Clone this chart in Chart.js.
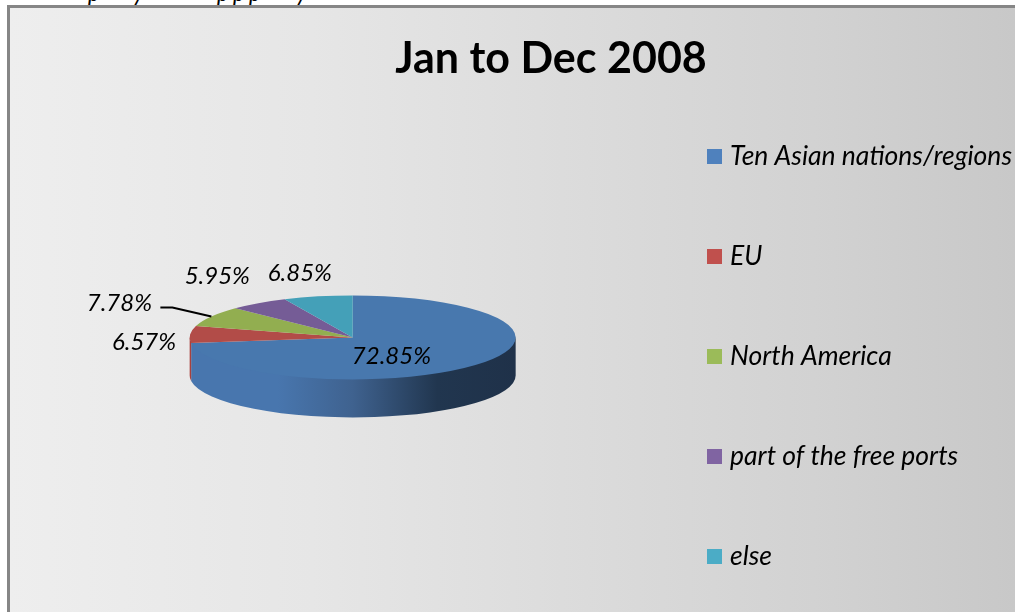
<!DOCTYPE html>
<html><head><meta charset="utf-8">
<style>
html,body{margin:0;padding:0;background:#fff;width:1015px;height:612px;overflow:hidden}
#clip{position:absolute;left:0;top:0;width:1015px;height:5px;overflow:hidden;font:italic 23px Lato,sans-serif;color:#000}
#clip span{position:absolute;bottom:1px;line-height:23px}
#box{position:absolute;left:7px;top:5px;width:1008px;height:607px;box-sizing:border-box;border-left:3px solid #868686;border-top:3px solid #868686;
background:linear-gradient(90deg,#eeeeee 0%,#e6e6e6 30%,#dcdcdc 55%,#d2d2d2 80%,#c8c8c8 100%)}
#wrap{position:absolute;left:0;top:0;width:1015px;height:612px}
</style>
<script src="https://cdn.jsdelivr.net/npm/chart.js@4"></script>
</head><body>
<div id="clip"></div>
<div id="box"></div>
<div id="wrap"><canvas id="c" width="1015" height="612"></canvas></div>
<script>
const categories=['Ten Asian nations/regions','EU','North America','part of the free ports','else'];
const values=[72.85,6.57,7.78,5.95,6.85];
const titleText='Jan to Dec 2008';
const legendColors=['#4f81bd','#c0504d','#9bbb59','#8064a2','#4bacc6'];
const topColors=['#4878ae','#b24c48','#92ae50','#755c96','#44a0b8'];
const wallColors=['#4876ae','#a8413e','#7f9a45','#65497f','#358aa0'];
const labelOffsets=[[-84,-9],[-46,8],[-92,-13],[-41,-27],[-18,-23]];
const leaderFor=2;
const tilt=42/163, depth=38;
const font='Lato, sans-serif';
const clippedGlyphs=[['p',88],['y',133],['p',217],['p',233],['p',249],['y',296]];

const clip=document.getElementById('clip');
clippedGlyphs.forEach(([g,x])=>{const s=document.createElement('span');s.textContent=g;s.style.left=x+'px';clip.appendChild(s);});

function swatch(color){
  const c=document.createElement('canvas');c.width=15;c.height=15;
  const x=c.getContext('2d');x.fillStyle=color;x.fillRect(0,0,15,15);
  return c;
}

const pie3d={
  id:'pie3d',
  beforeDatasetsDraw(chart){
    const ctx=chart.ctx, arcs=chart.getDatasetMeta(0).data;
    const cx=arcs[0].x, cy=arcs[0].y, R=arcs[0].outerRadius, ry=R*tilt;
    arcs.forEach((a,i)=>{
      const s=Math.max(a.startAngle,0), e=Math.min(a.endAngle,Math.PI);
      if(e<=s) return;
      ctx.save();
      ctx.beginPath();
      ctx.ellipse(cx,cy-1.5,R,ry,0,s,e);
      ctx.ellipse(cx,cy+depth,R,ry,0,e,s,true);
      ctx.closePath();
      if(i===0){
        const g=ctx.createLinearGradient(cx-R,0,cx+R,0);
        g.addColorStop(0,wallColors[0]);
        g.addColorStop(0.27,wallColors[0]);
        g.addColorStop(0.5,'#3f628f');
        g.addColorStop(0.76,'#21364f');
        g.addColorStop(1,'#1f3149');
        ctx.fillStyle=g;
      } else ctx.fillStyle=wallColors[i];
      ctx.fill();
      ctx.restore();
    });
    ctx.save();
    ctx.translate(cx,cy);ctx.scale(1,tilt);ctx.translate(-cx,-cy);
  },
  afterDatasetsDraw(chart){
    const ctx=chart.ctx;
    ctx.restore();
    const arcs=chart.getDatasetMeta(0).data;
    const cx=arcs[0].x, cy=arcs[0].y, R=arcs[0].outerRadius, ry=R*tilt;
    ctx.save();
    ctx.font='italic 24px '+font;
    ctx.textAlign='center';ctx.textBaseline='middle';ctx.fillStyle='#000';
    arcs.forEach((a,i)=>{
      const m=(a.startAngle+a.endAngle)/2;
      const px=cx+R*Math.cos(m), py=cy+ry*Math.sin(m);
      const lx=px+labelOffsets[i][0], ly=py+labelOffsets[i][1];
      ctx.fillText(values[i].toFixed(2)+'%',lx,ly);
      if(i===leaderFor){
        ctx.beginPath();
        ctx.moveTo(lx+41,ly+4);ctx.lineTo(lx+53,ly+4);ctx.lineTo(px,py);
        ctx.strokeStyle='#000';ctx.lineWidth=2;ctx.stroke();
      }
    });
    ctx.restore();
  },
  afterLayout(chart){
    chart.titleBlock.left+=7;chart.titleBlock.right+=7;
    chart.legend.top+=70;chart.legend.bottom+=70;
  }
};

new Chart(document.getElementById('c'),{
  type:'pie',
  data:{labels:categories,datasets:[{data:values,backgroundColor:topColors,borderWidth:0,radius:163}]},
  plugins:[pie3d],
  options:{
    responsive:false,animation:false,
    events:[],
    layout:{padding:{left:66,right:-7,top:0,bottom:9}},
    plugins:{
      tooltip:{enabled:false},
      title:{display:true,text:titleText,color:'#000',font:{family:font,size:43,weight:'bold',lineHeight:0.6},padding:{top:46,bottom:0}},
      legend:{
        position:'right',align:'start',
        labels:{
          boxWidth:15,boxHeight:15,padding:73.5,color:'#000',
          usePointStyle:true,pointStyleWidth:4,
          font:{family:font,size:26.5,style:'italic'},
          generateLabels(){return categories.map((t,i)=>({text:t,fillStyle:legendColors[i],strokeStyle:legendColors[i],lineWidth:0,index:i,fontColor:'#000',pointStyle:swatch(legendColors[i])}));}
        }
      }
    }
  }
});
</script>
</body></html>
